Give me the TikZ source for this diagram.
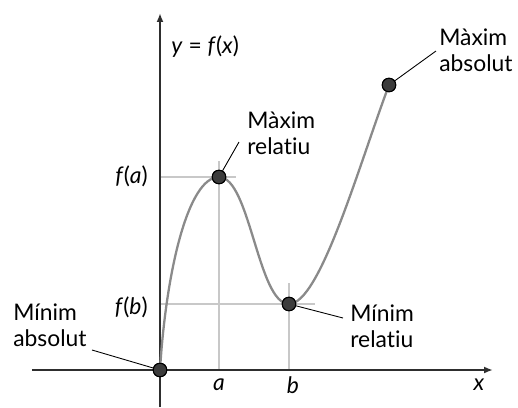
\documentclass[tikz,border=0pt]{standalone}
\usepackage{fontspec}
\setmainfont{Lato}[Ligatures={NoCommon,NoContextual}]
\usepackage{xcolor}
\usetikzlibrary{arrows.meta}
\definecolor{ptfill}{HTML}{3C3C3C}
\definecolor{curvegray}{HTML}{8A8A8A}
\definecolor{gridgray}{HTML}{C8C8C8}
\definecolor{axisgray}{HTML}{2E2E2E}
\tikzset{
  pt/.style={circle, draw=black, line width=0.6pt, fill=ptfill,
             inner sep=0pt, minimum size=0.27cm},
  lbl/.style={align=left, anchor=north west, inner sep=0pt,
              font=\fontsize{13}{15.3}\selectfont},
  ax/.style={-{Latex[length=0.18cm,width=0.14cm]}, line width=1.1pt, draw=axisgray},
  gl/.style={draw=gridgray, line width=0.6pt},
  ld/.style={draw=black, line width=0.5pt},
  crv/.style={draw=curvegray, line width=1.3pt},
  tx/.style={inner sep=0pt, font=\fontsize{13}{15}\selectfont}
}
\begin{document}
\begin{tikzpicture}[x=0.02cm,y=0.02cm]
\useasboundingbox (-160,-37) rectangle (358,370);
% guide lines
\draw[gl] (0,193) -- (76,193); \draw[gl] (59,209) -- (59,0);
\draw[gl] (0,66) -- (155,66);  \draw[gl] (129,87) -- (129,0);
% axes
\coordinate (xl) at (-128,0); \coordinate (xr) at (333,0);
\coordinate (yb) at (0,-37);  \coordinate (yt) at (0,357);
\draw[ax] (xl) -- (xr);
\draw[ax] (yb) -- (yt);
% points
\node[pt] (minabs) at (0,0) {};
\node[pt] (maxrel) at (59,193) {};
\node[pt] (minrel) at (129,66) {};
\node[pt] (maxabs) at (229,285) {};
\draw[crv] (minabs.center) .. controls (6,98) and (28,193) .. (maxrel.center)
  .. controls (90,193) and (98,66) .. (minrel.center)
  .. controls (160,66) and (199,205) .. (maxabs.center);
\node[pt] at (minabs) {}; \node[pt] at (maxrel) {};
\node[pt] at (minrel) {}; \node[pt] at (maxabs) {};
% axis texts
\node[tx, anchor=east] (fa) at (-12,194) {\textit{f}(\textit{a})};
\node[tx, anchor=east] (fb) at (-12,63) {\textit{f}(\textit{b})};
\node[tx] (ta) at (59,-15) {\textit{a}};
\node[tx] (tb) at (133,-15) {\textit{b}};
\node[tx] (tx) at (319,-15) {\textit{x}};
\node[tx, anchor=west] (yfx) at (11,323) {\textit{y} = \textit{f}(\textit{x})};
% labels
\node[lbl] (lmaxabs) at (279,342) {Màxim\\absolut};
\node[lbl] (lmaxrel) at (87,259) {Màxim\\relatiu};
\node[lbl] (lminrel) at (190,66) {Mínim\\relatiu};
\node[lbl] (lminabs) at (-147,67) {Mínim\\absolut};
\coordinate (emaxabs) at (276,319); \coordinate (emaxrel) at (79,228);
\coordinate (eminrel) at (183,52);  \coordinate (eminabs) at (-68,20);
\draw[ld] (emaxabs) -- (maxabs); \draw[ld] (emaxrel) -- (maxrel);
\draw[ld] (eminrel) -- (minrel); \draw[ld] (eminabs) -- (minabs);
\end{tikzpicture}
\end{document}
